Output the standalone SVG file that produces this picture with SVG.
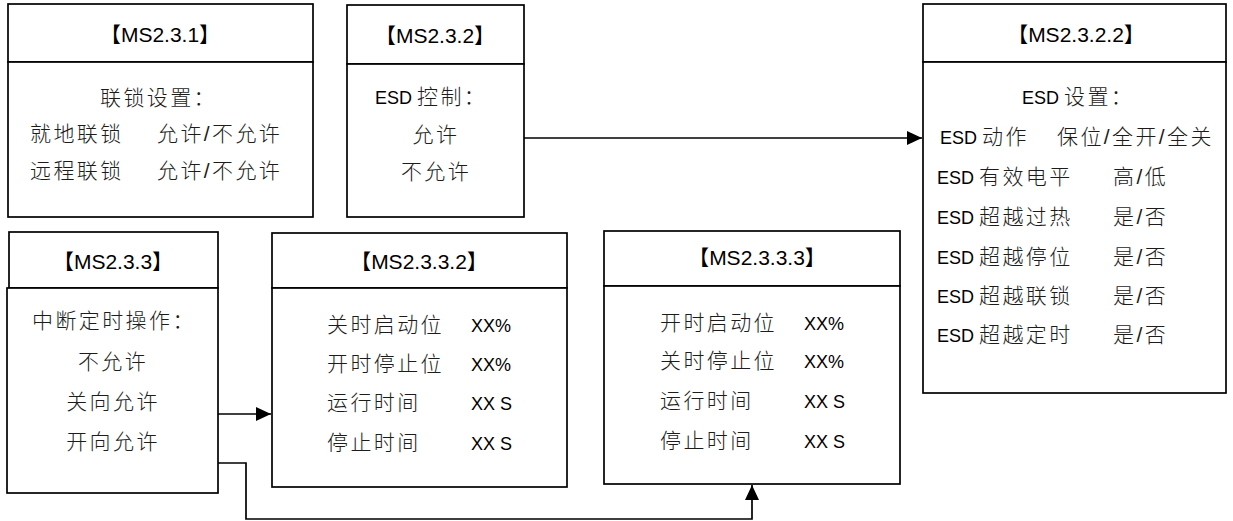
<svg xmlns="http://www.w3.org/2000/svg" width="1233" height="521" viewBox="0 0 1233 521">
<style>
.box{fill:#fff;stroke:#000;stroke-width:1.7}
.t{font-family:"Liberation Sans","Noto Sans CJK SC",sans-serif;font-size:21px;fill:#000}
.c{letter-spacing:2.4px;font-weight:300;fill:#1c1c1c}
.l{font-size:18px}
.h{font-size:21px}
.m{text-anchor:middle}
.w{fill:none;stroke:#000;stroke-width:1.7}
</style>
<defs>
<marker id="ah" markerUnits="userSpaceOnUse" markerWidth="16" markerHeight="14" refX="15" refY="7" orient="auto">
<path d="M0,0 L15,7 L0,14 Z" fill="#000"/>
</marker>
</defs>
<rect width="1233" height="521" fill="#fff"/>

<g id="ms231">
<rect class="box" x="8" y="4" width="305" height="58"/>
<rect class="box" x="8" y="62" width="305" height="155"/>
<text class="t m" x="160" y="42">【<tspan class="h">MS2.3.1</tspan>】</text>
<text class="t c" x="100" y="105">联锁设置：</text>
<text class="t c" x="30" y="141">就地联锁</text>
<text class="t c" x="157" y="141">允许/不允许</text>
<text class="t c" x="30" y="178">远程联锁</text>
<text class="t c" x="157" y="178">允许/不允许</text>
</g>

<g id="ms232">
<rect class="box" x="347" y="5" width="177" height="59"/>
<rect class="box" x="347" y="64" width="177" height="153"/>
<text class="t m" x="435" y="43">【<tspan class="h">MS2.3.2</tspan>】</text>
<text class="t" x="375" y="104"><tspan class="l">ESD </tspan><tspan class="c">控制：</tspan></text>
<text class="t c m" x="436" y="142">允许</text>
<text class="t c m" x="436" y="179">不允许</text>
</g>

<g id="ms2322">
<rect class="box" x="923" y="4" width="303" height="58"/>
<rect class="box" x="923" y="62" width="303" height="331"/>
<text class="t m" x="1076" y="42">【<tspan class="h">MS2.3.2.2</tspan>】</text>
<text class="t" x="1022" y="104"><tspan class="l">ESD </tspan><tspan class="c">设置：</tspan></text>
<text class="t" x="940" y="144"><tspan class="l">ESD </tspan><tspan class="c">动作</tspan></text>
<text class="t c" x="1057" y="144">保位/全开/全关</text>
<text class="t" x="937" y="184"><tspan class="l">ESD </tspan><tspan class="c">有效电平</tspan></text>
<text class="t c" x="1113" y="184">高/低</text>
<text class="t" x="937" y="224"><tspan class="l">ESD </tspan><tspan class="c">超越过热</tspan></text>
<text class="t c" x="1113" y="224">是/否</text>
<text class="t" x="937" y="264"><tspan class="l">ESD </tspan><tspan class="c">超越停位</tspan></text>
<text class="t c" x="1113" y="264">是/否</text>
<text class="t" x="937" y="303"><tspan class="l">ESD </tspan><tspan class="c">超越联锁</tspan></text>
<text class="t c" x="1113" y="303">是/否</text>
<text class="t" x="937" y="342"><tspan class="l">ESD </tspan><tspan class="c">超越定时</tspan></text>
<text class="t c" x="1113" y="342">是/否</text>
</g>

<g id="ms233">
<rect class="box" x="9" y="232" width="209" height="56"/>
<rect class="box" x="7" y="288" width="211" height="205"/>
<text class="t m" x="113" y="269">【<tspan class="h">MS2.3.3</tspan>】</text>
<text class="t c" x="32" y="328">中断定时操作：</text>
<text class="t c m" x="113" y="369">不允许</text>
<text class="t c m" x="113" y="409">关向允许</text>
<text class="t c m" x="113" y="449">开向允许</text>
</g>

<g id="ms2332">
<rect class="box" x="272" y="233" width="295" height="55"/>
<rect class="box" x="272" y="288" width="295" height="199"/>
<text class="t m" x="419" y="269">【<tspan class="h">MS2.3.3.2</tspan>】</text>
<text class="t c" x="327" y="332">关时启动位</text>
<text class="t l" x="471" y="332">XX%</text>
<text class="t c" x="327" y="371">开时停止位</text>
<text class="t l" x="471" y="371">XX%</text>
<text class="t c" x="327" y="410">运行时间</text>
<text class="t l" x="471" y="410">XX S</text>
<text class="t c" x="327" y="450">停止时间</text>
<text class="t l" x="471" y="450">XX S</text>
</g>

<g id="ms2333">
<rect class="box" x="604" y="231" width="296" height="55"/>
<rect class="box" x="604" y="286" width="296" height="198"/>
<text class="t m" x="757" y="265">【<tspan class="h">MS2.3.3.3</tspan>】</text>
<text class="t c" x="660" y="330">开时启动位</text>
<text class="t l" x="804" y="330">XX%</text>
<text class="t c" x="660" y="368">关时停止位</text>
<text class="t l" x="804" y="368">XX%</text>
<text class="t c" x="660" y="408">运行时间</text>
<text class="t l" x="804" y="408">XX S</text>
<text class="t c" x="660" y="448">停止时间</text>
<text class="t l" x="804" y="448">XX S</text>
</g>

<g id="connectors">
<path class="w" d="M524,138 H922" marker-end="url(#ah)"/>
<path class="w" d="M218,414 H271" marker-end="url(#ah)"/>
<path class="w" d="M218,463 H246 V519 H752 V485" marker-end="url(#ah)"/>
</g>
</svg>
